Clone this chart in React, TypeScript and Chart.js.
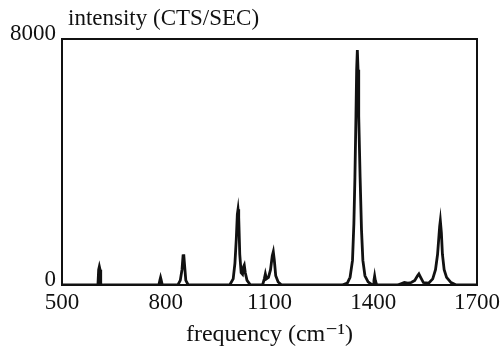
import React, { useEffect, useRef } from "react";
import { Chart, registerables } from "chart.js";

Chart.register(...registerables);

// Raman spectrum: frequency (cm-1) and intensity (CTS/SEC)
const frequencies = [
  500, 600, 604, 606, 608, 610, 612, 620,
  780, 783, 785, 787, 790,
  835, 842, 847, 850, 852, 854, 858, 865,
  985, 995, 1000, 1004, 1007, 1009, 1011, 1014, 1018, 1022, 1025, 1027, 1030, 1035, 1045,
  1080, 1085, 1088, 1091, 1097, 1103, 1108, 1111, 1114, 1118, 1125, 1135,
  1310, 1325, 1333, 1340, 1344, 1347, 1350, 1352, 1354, 1356, 1358, 1362, 1366, 1370, 1376, 1385, 1395,
  1400, 1402, 1404, 1406, 1410,
  1470, 1480, 1490, 1500, 1510, 1520, 1528, 1532, 1537, 1545, 1560,
  1572, 1580, 1586, 1590, 1592, 1594, 1597, 1600, 1605, 1612, 1625, 1640, 1700,
];
const intensities = [
  0, 0, 20, 500, 600, 500, 20, 0,
  0, 150, 240, 150, 0,
  0, 150, 500, 950, 1000, 700, 150, 0,
  0, 200, 700, 1500, 2300, 2460, 2200, 1000, 400, 350, 600, 650, 400, 150, 0,
  0, 200, 360, 200, 250, 500, 950, 1080, 800, 300, 100, 0,
  0, 60, 250, 800, 2000, 3500, 5500, 7000, 7640, 7000, 5500, 3500, 1800, 800, 300, 100, 20,
  0, 150, 290, 150, 0,
  0, 40, 80, 60, 80, 150, 300, 360, 250, 80, 60,
  200, 500, 1000, 1600, 1900, 2090, 1700, 1000, 500, 250, 80, 0, 0,
];
const xTicks = [500, 800, 1100, 1400, 1700];
const yTicks = [0, 8000];
const yTitle = "intensity (CTS/SEC)";
const xTitle = "frequency (cm\u207B\u00B9)";

const FONT = "'Liberation Serif', 'DejaVu Serif', serif";

export default function App() {
  const ref = useRef<HTMLCanvasElement | null>(null);

  useEffect(() => {
    document.body.style.margin = "0";
    const canvas = ref.current;
    if (!canvas) return;

    const framePlugin = {
      id: "frame",
      afterDraw(chart: any) {
        const { ctx, chartArea } = chart;
        ctx.save();
        ctx.strokeStyle = "#111";
        ctx.lineWidth = 2;
        ctx.strokeRect(chartArea.left, chartArea.top, chartArea.right - chartArea.left, chartArea.bottom - chartArea.top);
        ctx.fillStyle = "#111";
        ctx.font = `23px ${FONT}`;
        ctx.textBaseline = "alphabetic";
        ctx.textAlign = "left";
        ctx.fillText(yTitle, chartArea.left + 6, chartArea.top - 14);
        ctx.restore();
      },
    };

    const chart = new Chart(canvas, {
      type: "line",
      data: {
        datasets: [
          {
            data: frequencies.map((f, i) => ({ x: f, y: intensities[i] })),
            borderColor: "#111",
            borderWidth: 2.8,
            pointRadius: 0,
            tension: 0,
            fill: false,
          },
        ],
      },
      options: {
        animation: false,
        responsive: false,
        layout: { padding: { top: 39, right: 22, left: 0, bottom: 0 } },
        plugins: { legend: { display: false }, tooltip: { enabled: false } },
        scales: {
          x: {
            type: "linear",
            min: 500,
            max: 1700,
            afterFit(scale: any) {
              scale.height = 66;
            },
            afterBuildTicks(scale: any) {
              scale.ticks = xTicks.map((v) => ({ value: v }));
            },
            grid: { display: false, drawTicks: false },
            border: { display: true, color: "#111", width: 2 },
            ticks: {
              color: "#111",
              font: { family: FONT, size: 23 },
              padding: 4,
              maxRotation: 0,
              callback: (v: any) => String(v),
            },
            title: {
              display: true,
              text: xTitle,
              color: "#111",
              font: { family: FONT, size: 24 },
              padding: { top: 0, bottom: 2 },
            },
          },
          y: {
            type: "linear",
            min: 0,
            max: 8000,
            afterFit(scale: any) {
              scale.width = 62;
            },
            afterBuildTicks(scale: any) {
              scale.ticks = yTicks.map((v) => ({ value: v }));
            },
            grid: { display: false, drawTicks: false },
            border: { display: true, color: "#111", width: 2 },
            ticks: {
              color: "#111",
              font: { family: FONT, size: 23 },
              padding: 6,
              labelOffset: -5,
              callback: (v: any) => String(v),
            },
          },
        },
      },
      plugins: [framePlugin],
    });

    return () => chart.destroy();
  }, []);

  return (
    <div style={{ width: 504, height: 351, background: "#fff" }}>
      <canvas ref={ref} width={504} height={351} style={{ display: "block" }} />
    </div>
  );
}
